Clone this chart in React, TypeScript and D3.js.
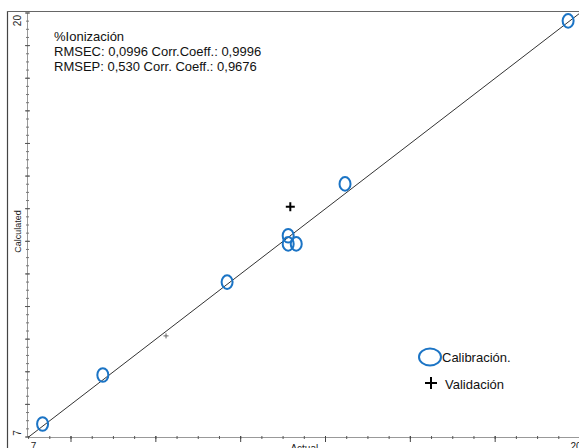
import * as d3 from 'd3';
import React from 'react';

// calibration samples (actual, calculated)
const calActual = [7.33, 8.75, 11.68, 13.12, 13.12, 13.31, 14.46, 19.72];
const calCalc = [7.4, 8.9, 11.75, 13.17, 12.92, 12.92, 14.76, 19.76];
// validation samples
const valActual = [13.17, 10.24];
const valCalc = [14.06, 10.1];
const valSize = [7, 3];

const annotation = [
    '%Ionización',
    'RMSEC: 0,0996 Corr.Coeff.: 0,9996',
    'RMSEP: 0,530 Corr. Coeff.: 0,9676',
];
const legendLabels = ['Calibración.', 'Validación'];
const axisDomain = [7, 20];

const font = "'Liberation Sans', Arial, sans-serif";
const blue = '#1b74c5';

const App = () => {
    const width = 579;
    const height = 448;

    const x = d3.scaleLinear().domain(axisDomain).range([28.6, 580]);
    const y = d3.scaleLinear().domain(axisDomain).range([437, 13]);

    const xMinor = d3.range(7, 20.01, 0.5);
    const xMajor = d3.range(8, 20.01, 2);
    const yMinor = d3.range(7, 20.01, 0.25);
    const yMajor = d3.range(7, 20.01, 1);

    const line = d3.line<number>()
        .x(d => x(d))
        .y(d => y(d));

    return (
        <svg width={width} height={height}
            style={{ position: 'absolute', left: 0, top: 0, background: '#fff' }}>
            {/* outer frame */}
            <line x1={7.5} y1={11} x2={7.5} y2={height} stroke="#444" strokeWidth={1.2} />
            <line x1={7} y1={11.5} x2={width} y2={11.5} stroke="#666" strokeWidth={1.2} />

            {/* y axis */}
            <line x1={27.5} y1={y(20)} x2={27.5} y2={y(7)} stroke="#999" strokeWidth={1} />
            {yMinor.map((v, i) => (
                <line key={'ym' + i} x1={26} x2={29} y1={y(v)} y2={y(v)} stroke="#777" strokeWidth={1} />
            ))}
            {yMajor.map((v, i) => (
                <line key={'yM' + i} x1={25} x2={30} y1={y(v)} y2={y(v)} stroke="#555" strokeWidth={1} />
            ))}
            <text transform={`translate(21,${y(20) + 2}) rotate(-90)`} textAnchor="end"
                fontFamily={font} fontSize={10} fill="#222">20</text>
            <text transform={`translate(21,${y(7) - 4}) rotate(-90)`} textAnchor="middle"
                fontFamily={font} fontSize={10} fill="#222">7</text>
            <text transform={`translate(21,${y(13.3)}) rotate(-90)`} textAnchor="middle"
                fontFamily={font} fontSize={9} fill="#222">Calculated</text>

            {/* x axis */}
            <line x1={x(7)} y1={437.5} x2={width} y2={437.5} stroke="#999" strokeWidth={1.2} />
            {xMinor.map((v, i) => (
                <line key={'xm' + i} x1={x(v)} x2={x(v)} y1={436} y2={439} stroke="#555" strokeWidth={1} />
            ))}
            {xMajor.map((v, i) => (
                <line key={'xM' + i} x1={x(v)} x2={x(v)} y1={436} y2={442} stroke="#444" strokeWidth={1} />
            ))}
            <text x={x(7) + 5} y={450} textAnchor="middle" fontFamily={font} fontSize={10} fill="#222">7</text>
            <text x={x(20) - 4} y={450} textAnchor="middle" fontFamily={font} fontSize={10} fill="#222">20</text>
            <text x={x(13.5)} y={452} textAnchor="middle" fontFamily={font} fontSize={10} fill="#222">Actual</text>

            {/* regression line */}
            <path d={line([7, 20]) ?? ''} fill="none" stroke="#333" strokeWidth={1} />

            {/* calibration */}
            {calActual.map((a, i) => (
                <ellipse key={'c' + i} cx={x(a)} cy={y(calCalc[i])} rx={5.5} ry={6.8}
                    fill="none" stroke={blue} strokeWidth={2} />
            ))}

            {/* validation */}
            {valActual.map((a, i) => {
                const s = valSize[i];
                return (
                    <g key={'v' + i} transform={`translate(${x(a)},${y(valCalc[i])})`}
                        stroke={i === 0 ? '#000' : '#666'} strokeWidth={i === 0 ? 2 : 1}>
                        <line x1={-s / 2 - 1} x2={s / 2 + 1} y1={0} y2={0} />
                        <line x1={0} x2={0} y1={-s / 2 - 1} y2={s / 2 + 1} />
                    </g>
                );
            })}

            {/* annotation */}
            {annotation.map((t, i) => (
                <text key={'a' + i} x={54} y={41 + i * 15} fontFamily={font} fontSize={13} fill="#111">{t}</text>
            ))}

            {/* legend */}
            <ellipse cx={430} cy={357} rx={11} ry={8.5} fill="none" stroke={blue} strokeWidth={2} />
            <text x={442} y={362} fontFamily={font} fontSize={13} fill="#111">{legendLabels[0]}</text>
            <g transform="translate(431,383)" stroke="#000" strokeWidth={2}>
                <line x1={-6} x2={6} y1={0} y2={0} />
                <line x1={0} x2={0} y1={-6} y2={6} />
            </g>
            <text x={445} y={389} fontFamily={font} fontSize={13} fill="#111">{legendLabels[1]}</text>
        </svg>
    );
};

export default App;
